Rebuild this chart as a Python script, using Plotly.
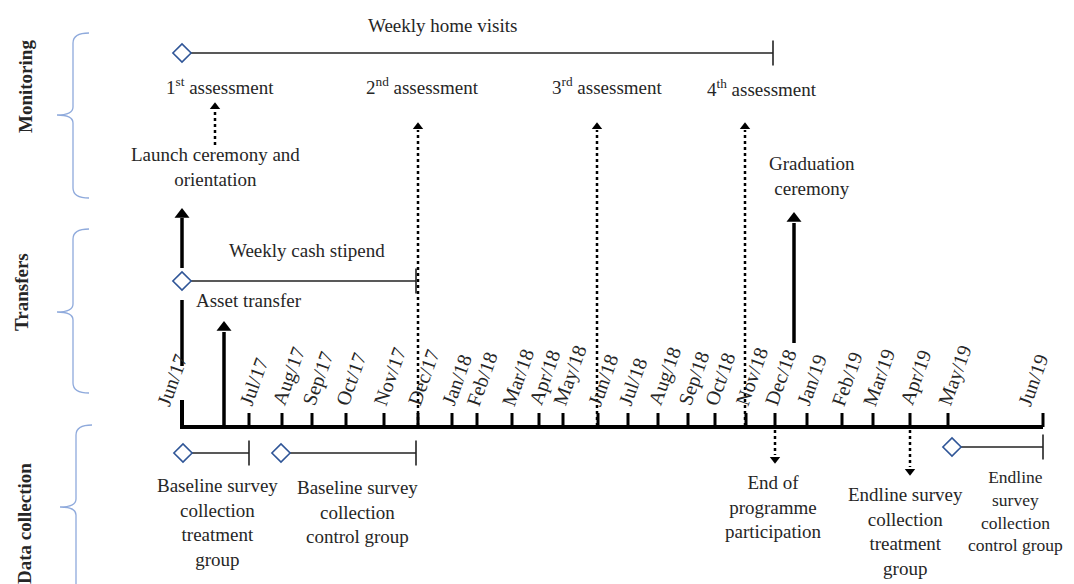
import plotly.graph_objects as go

# timeline months and where they sit on the drawing's horizontal scale
months = ['Jun/17', 'Jul/17', 'Aug/17', 'Sep/17', 'Oct/17', 'Nov/17', 'Dec/17',
          'Jan/18', 'Feb/18', 'Mar/18', 'Apr/18', 'May/18', 'Jun/18', 'Jul/18',
          'Aug/18', 'Sep/18', 'Oct/18', 'Nov/18', 'Dec/18', 'Jan/19', 'Feb/19',
          'Mar/19', 'Apr/19', 'May/19', 'Jun/19']
month_pos = [182, 249, 282, 312, 346, 384, 418, 452, 477, 512, 539, 563, 598,
             628, 658, 688, 715, 746, 775, 807, 842, 873, 910, 948, 1043]

# periods: diamond start -> bar end
period_names = ['Weekly home visits', 'Weekly cash stipend',
                'Baseline treatment', 'Baseline control', 'Endline control']
period_start = [182, 182, 183, 281, 952]
period_end = [773, 416, 249, 416, 1043]
period_row = [53, 281, 453, 453, 447]

# assessments (dotted arrows up to the label)
assess_labels = ['1<sup>st</sup> assessment', '2<sup>nd</sup> assessment',
                 '3<sup>rd</sup> assessment', '4<sup>th</sup> assessment']
assess_label_x = [220, 422, 607, 762]
assess_arrow_x = [215, 418, 597, 745]

FONT = 'Liberation Serif'
TXT = '#262626'
BLUE = '#2F5597'
BRACE = '#8FAADC'

fig = go.Figure()


def seg(x0, y0, x1, y1, width=3, dash='solid', color='black'):
    fig.add_trace(go.Scatter(x=[x0, x1], y=[y0, y1], mode='lines',
                             line=dict(color=color, width=width, dash=dash),
                             hoverinfo='skip'))


def head(x, y, up=True, size=12):
    fig.add_trace(go.Scatter(x=[x], y=[y + (size * 0.42 if up else -size * 0.42)],
                             mode='markers', hoverinfo='skip',
                             marker=dict(symbol='triangle-up' if up else 'triangle-down',
                                         size=size, color='black')))


def text(x, y, s, size=19, bold=False, angle=0, xanchor='center', yanchor='middle'):
    if bold:
        s = '<b>' + s + '</b>'
    fig.add_annotation(x=x, y=y, text=s, showarrow=False, textangle=angle,
                       xanchor=xanchor, yanchor=yanchor,
                       font=dict(family=FONT, size=size, color=TXT))


# braces on the left
def brace(x, top, tip, bottom):
    p = (f'M {x+16},{top} Q {x},{top} {x},{top+10} L {x},{tip-8} '
         f'Q {x},{tip} {x-16},{tip} Q {x},{tip} {x},{tip+8} '
         f'L {x},{bottom-10} Q {x},{bottom} {x+16},{bottom}')
    fig.add_shape(type='path', path=p, xref='x', yref='y',
                  line=dict(color=BRACE, width=1.3))


brace(73, 33, 115, 198)
brace(73, 229, 312, 393)
brace(76, 425, 507, 640)
text(25, 87, 'Monitoring', size=19, bold=True, angle=-90)
text(21, 292, 'Transfers', size=19, bold=True, angle=-90)
text(24, 524, 'Data collection', size=19, bold=True, angle=-90)

# main time axis
seg(month_pos[0], 427, month_pos[-1], 427, width=4)
seg(month_pos[0], 400, month_pos[0], 429, width=4)
tx, ty = [], []
for p in month_pos[1:]:
    tx += [p, p, None]
    ty += [413, 427, None]
fig.add_trace(go.Scatter(x=tx, y=ty, mode='lines', line=dict(color='black', width=3),
                         hoverinfo='skip'))
for i, (m, p) in enumerate(zip(months, month_pos)):
    off = -32 if i in (0, len(months) - 1) else -17
    text(p + off, 411, m, size=20, angle=-70, xanchor='left', yanchor='bottom')

# periods
for s, e, r, n in zip(period_start, period_end, period_row, period_names):
    seg(s, r, e, r, width=1.5, color='#222')
    fig.add_trace(go.Scatter(x=[e], y=[r], mode='markers', hoverinfo='skip',
                             marker=dict(symbol='line-ns', size=18,
                                         line=dict(color='#222', width=1.6))))

# transfers start arrow (broken around the stipend diamond)
seg(182, 366, 182, 300, width=3.5)
seg(182, 268, 182, 218, width=3.5)
head(182, 209, size=13)
for s, r in zip(period_start, period_row):
    fig.add_trace(go.Scatter(x=[s], y=[r], mode='markers', hoverinfo='skip',
                             marker=dict(symbol='diamond', size=14, color='white',
                                         line=dict(color=BLUE, width=1.6))))

text(442, 25, period_names[0])
text(307, 250, period_names[1])
text(249, 300, 'Asset transfer')

# asset transfer arrow
seg(224, 427, 224, 332, width=3.5)
head(224, 322, size=13)

# assessments
for lab, lx in zip(assess_labels, assess_label_x):
    text(lx, 86 if lx < 700 else 88, lab)
seg(assess_arrow_x[0], 145, assess_arrow_x[0], 110, width=2.5, dash='dot')
head(assess_arrow_x[0], 103, size=9)
for ax_ in assess_arrow_x[1:]:
    seg(ax_, 426, ax_, 130, width=2.5, dash='dot')
    head(ax_, 123, size=9)
text(215, 167, 'Launch ceremony and<br>orientation')

# graduation
seg(794, 343, 794, 223, width=3.5)
head(794, 213, size=13)
text(812, 176, 'Graduation<br>ceremony')

# data collection
text(217, 522, 'Baseline survey<br>collection<br>treatment<br>group')
text(357, 512, 'Baseline survey<br>collection<br>control group')
seg(775, 430, 775, 455, width=2.5, dash='dot')
head(775, 463, up=False, size=9)
text(773, 507, 'End of<br>programme<br>participation')
seg(910, 430, 910, 467, width=2.5, dash='dot')
head(910, 475, up=False, size=9)
text(905, 531, 'Endline survey<br>collection<br>treatment<br>group')
text(1015, 511, 'Endline<br>survey<br>collection<br>control group', size=17.5)

# page body keeps an 8px margin, so the figure is shifted by it
fig.update_layout(width=1066, height=576, margin=dict(l=0, r=0, t=0, b=0),
                  showlegend=False, plot_bgcolor='white', paper_bgcolor='white',
                  xaxis=dict(range=[8, 1074], visible=False, fixedrange=True),
                  yaxis=dict(range=[584, 8], visible=False, fixedrange=True))
fig.write_html('out.html')
